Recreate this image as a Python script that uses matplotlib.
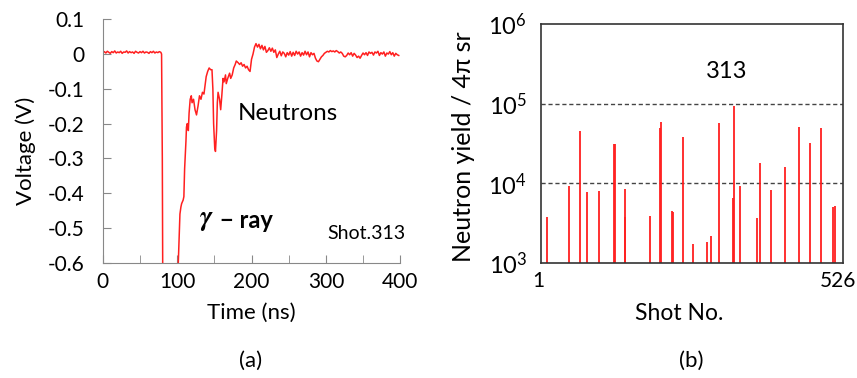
import numpy as np
import matplotlib.pyplot as plt
from matplotlib.ticker import MultipleLocator, FixedLocator, NullLocator

plt.rcParams['font.family'] = ['Lato', 'DejaVu Sans']
plt.rcParams['mathtext.fontset'] = 'custom'
plt.rcParams['mathtext.rm'] = 'Lato'
plt.rcParams['mathtext.it'] = 'Lato:italic'
plt.rcParams['mathtext.bf'] = 'Lato:bold'

RED = '#ff2020'

# --- (a) scope trace, shot 313 ---
base_t = list(range(0, 80, 2))
base_v = [0.004, 0.007, 0.003, 0.008, 0.005, 0.002, 0.007, 0.004, 0.009, 0.003,
          0.006, 0.004, 0.008, 0.002, 0.006, 0.005, 0.009, 0.003, 0.007, 0.004,
          0.006, 0.002, 0.008, 0.005, 0.003, 0.007, 0.004, 0.008, 0.003, 0.006,
          0.005, 0.002, 0.007, 0.004, 0.008, 0.003, 0.006, 0.004, 0.007, 0.005]

pulse_t = [79, 80, 81, 100, 101.5, 103.7, 105, 106, 108, 109, 110, 111.8, 112.5,
           113.6, 115, 116, 117.5, 119, 120, 122, 124, 126, 128, 130, 132, 134,
           136, 138, 139, 141, 143, 145, 146.8, 148, 149, 150.5, 151.5, 153, 154,
           155, 156, 157, 158.5, 160, 161.7, 163, 165, 166, 168, 170.5, 172, 174,
           176, 178, 179.5, 182, 184, 186, 188, 190, 192, 194, 196, 198]
pulse_v = [0.0, -0.3, -0.9, -0.9, -0.6, -0.46, -0.44, -0.43, -0.42, -0.41, -0.33,
           -0.25, -0.21, -0.2, -0.22, -0.17, -0.13, -0.12, -0.14, -0.13, -0.16,
           -0.175, -0.15, -0.12, -0.13, -0.11, -0.115, -0.08, -0.065, -0.05,
           -0.04, -0.045, -0.045, -0.1, -0.2, -0.27, -0.28, -0.22, -0.14, -0.11,
           -0.12, -0.13, -0.16, -0.12, -0.07, -0.08, -0.06, -0.085, -0.07, -0.055,
           -0.07, -0.06, -0.04, -0.03, -0.02, -0.025, -0.03, -0.025, -0.035,
           -0.03, -0.04, -0.035, -0.045, -0.05]

tail_t = list(range(200, 400, 2))
tail_v = [-0.015, 0.0, 0.02, 0.03, 0.02, 0.028, 0.015, 0.025, 0.012, 0.022,
          0.005, 0.01, 0.018, 0.008, 0.017, 0.005, 0.012, -0.01, 0.0, 0.008,
          -0.005, 0.006, 0.002, -0.008, 0.004, -0.003, 0.007, -0.006, 0.005, -0.004,
          0.008, 0.0, 0.006, -0.006, 0.004, -0.003, 0.008, -0.002, 0.006, -0.008,
          0.004, -0.002, 0.002, -0.012, -0.02, -0.022, -0.015, -0.008, -0.004, 0.002,
          0.005, 0.008, 0.006, 0.01, 0.007, 0.009, 0.006, 0.01, 0.007, 0.003,
          0.006, 0.002, -0.006, -0.008, -0.004, 0.003, -0.002, 0.004, -0.006, 0.002,
          -0.003, -0.01, -0.006, -0.012, -0.004, 0.003, -0.002, 0.004, -0.004, 0.006,
          0.002, 0.005, -0.003, 0.006, 0.003, 0.008, -0.004, 0.004, 0.0, 0.006,
          -0.006, 0.003, 0.0, 0.007, -0.002, 0.004, -0.006, 0.002, -0.002, -0.004]

time_ns = np.array(base_t + pulse_t + tail_t, dtype=float)
voltage = np.array(base_v + pulse_v + tail_v)

volt_ticks = [-0.6, -0.5, -0.4, -0.3, -0.2, -0.1, 0.0, 0.1]
volt_labels = ['-0.6', '-0.5', '-0.4', '-0.3', '-0.2', '-0.1', '0', '0.1']

# --- (b) neutron yield per shot ---
shot_first, shot_last = 1, 526
shot_no = [11, 50, 69, 81, 102, 128, 130, 147, 148, 190, 208, 209, 228, 230, 247,
           266, 290, 297, 311, 335, 337, 346, 376, 382, 401, 425, 450, 468, 487,
           508, 511]
yield_4pi = [3800, 9250, 45900, 7770, 8000, 31300, 31300, 8400, 3800, 3900,
             49300, 58600, 4520, 4320, 37900, 1750, 1820, 2190, 56400, 6590,
             94200, 9250, 3690, 17900, 8240, 15900, 50700, 31600, 49800, 4990, 5130]
yield_ticks = [1e3, 1e4, 1e5, 1e6]
yield_labels = [r'$10^{3}$', r'$10^{4}$', r'$10^{5}$', r'$10^{6}$']

fig = plt.figure(figsize=(8.57, 3.78), dpi=100)

# panel (a)
ax1 = fig.add_axes([0.120, 0.305, 0.347, 0.644])
ax1.plot(time_ns, voltage, color=RED, lw=1.1)
ax1.set_xlim(0, 400)
ax1.set_ylim(-0.6, 0.1)
ax1.xaxis.set_major_locator(MultipleLocator(100))
ax1.xaxis.set_minor_locator(MultipleLocator(50))
ax1.yaxis.set_major_locator(FixedLocator(volt_ticks))
ax1.set_yticklabels(volt_labels)
for s in ['top', 'right']:
    ax1.spines[s].set_visible(False)
for s in ['left', 'bottom']:
    ax1.spines[s].set_color('#888888')
ax1.tick_params(which='both', direction='in', color='#888888', labelsize=15, length=6)
ax1.tick_params(axis='y', pad=13)
ax1.tick_params(axis='x', pad=7)
ax1.set_xlabel('Time (ns)', fontsize=16, va='center')
ax1.xaxis.set_label_coords(0.5, -0.207)
ax1.set_ylabel('Voltage (V)', fontsize=16, va='center')
ax1.yaxis.set_label_coords(-0.258, 0.46)
ax1.text(181, -0.17, 'Neutrons', fontsize=17.5, va='center')
ax1.text(129, -0.478, r'$\boldsymbol{\gamma}$', fontsize=20, va='center',
         math_fontfamily='stix')
ax1.text(158, -0.478, '− ray', fontsize=17, va='center', fontweight='bold')
ax1.text(407, -0.515, 'Shot.313', fontsize=14, va='center', ha='right')
fig.text(0.292, 0.045, '(a)', fontsize=16, ha='center', va='center')

# panel (b)
ax2 = fig.add_axes([0.631, 0.304, 0.353, 0.633])
ax2.set_yscale('log')
ax2.vlines(shot_no, 1e3, yield_4pi, color=RED, lw=1.3)
ax2.set_xlim(shot_first, shot_last)
ax2.set_ylim(1e3, 1e6)
ax2.axhline(1e4, color='#444444', ls=(0, (3, 2)), lw=1.0, zorder=0)
ax2.axhline(1e5, color='#444444', ls=(0, (3, 2)), lw=1.0, zorder=0)
ax2.xaxis.set_major_locator(FixedLocator([shot_first, shot_last]))
ax2.set_xticklabels(['', ''])
ax2.yaxis.set_major_locator(FixedLocator(yield_ticks))
ax2.yaxis.set_minor_locator(NullLocator())
ax2.set_yticklabels(yield_labels)
for s in ax2.spines.values():
    s.set_color('#333333')
    s.set_linewidth(1.2)
ax2.tick_params(length=0, labelsize=17)
ax2.tick_params(axis='y', pad=10)
for val, dx in [(shot_first, -2), (shot_last, -5)]:
    ax2.annotate(str(val), xy=(val, 0), xycoords=('data', 'axes fraction'),
                 xytext=(dx, -18), textcoords='offset pixels',
                 ha='center', va='center', fontsize=15)
ax2.set_xlabel('Shot No.', fontsize=16.5, va='center')
ax2.xaxis.set_label_coords(0.457, -0.209)
ax2.set_ylabel('Neutron yield / 4π sr', fontsize=18, va='center')
ax2.yaxis.set_label_coords(-0.254, 0.485)
ax2.text(324, 2.5e5, '313', fontsize=17, ha='center', va='center')
fig.text(0.807, 0.045, '(b)', fontsize=16, ha='center', va='center')

fig.savefig('out.png', dpi=100)
